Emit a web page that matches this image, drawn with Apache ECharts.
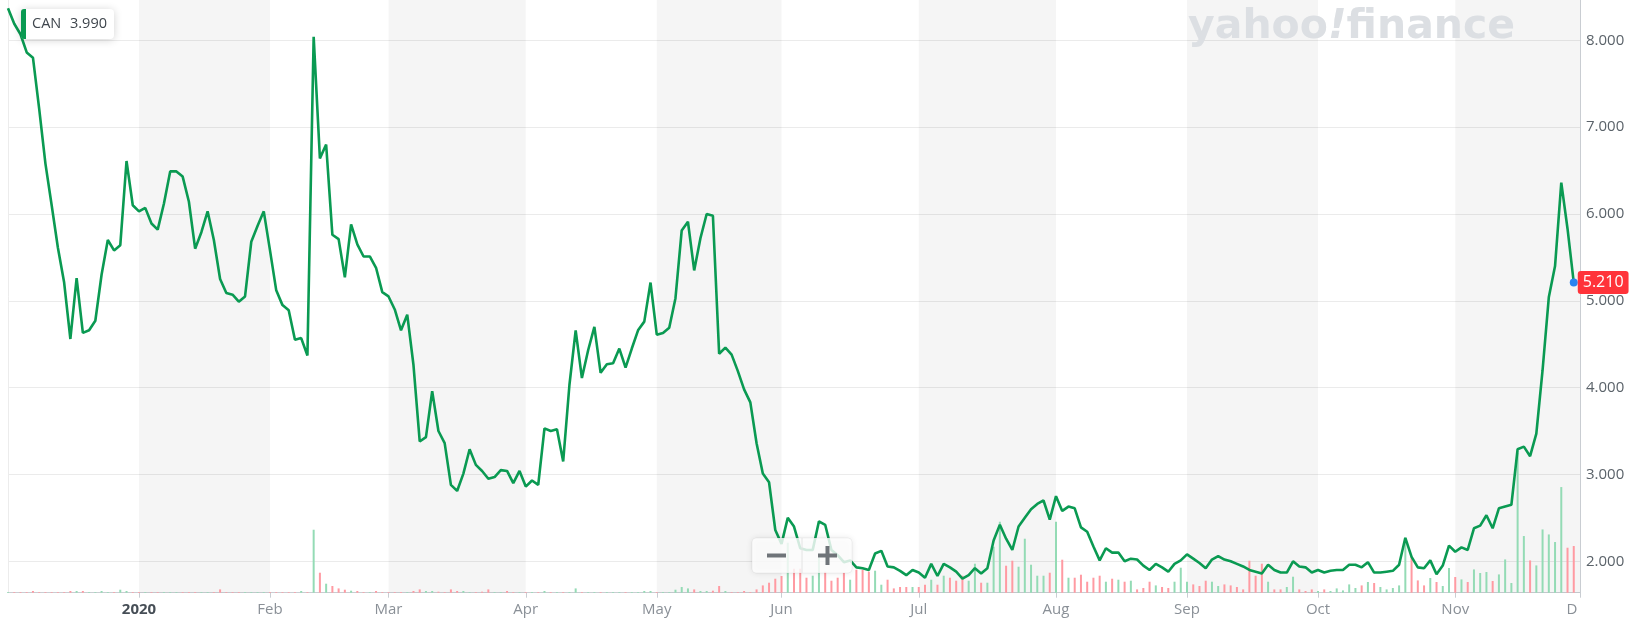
<!DOCTYPE html>
<html>
<head>
<meta charset="utf-8">
<script src="https://cdn.jsdelivr.net/npm/echarts@6/dist/echarts.min.js"></script>
<style>
html,body{margin:0;padding:0;background:#ffffff;}
#chart{width:1634px;height:632px;}
</style>
</head>
<body>
<div id="chart"></div>
<script>
// ---- calendar (NASDAQ trading days) ----
const firstDay = '2019-12-02';
const lastDay = '2020-12-01';
const holidays = ['2019-12-25','2020-01-01','2020-01-20','2020-02-17','2020-04-10',
                  '2020-05-25','2020-07-03','2020-09-07','2020-11-26'];
const monthNames = ['Jan','Feb','Mar','Apr','May','Jun','Jul','Aug','Sep','Oct','Nov','Dec'];

// ---- close prices (USD), one array per month ----
const priceDec19 = [8.37,8.19,8.07,7.86,7.80,7.21,6.58,6.10,5.61,5.21,4.56,5.26,4.63,4.66,4.77,5.30,5.70,5.58,5.64,6.61,6.10];
const priceJan = [6.03,6.07,5.89,5.82,6.12,6.49,6.49,6.43,6.14,5.60,5.79,6.03,5.70,5.25,5.09,5.07,4.99,5.05,5.68,5.86,6.03];
const priceFeb = [5.58,5.12,4.95,4.89,4.55,4.57,4.37,8.04,6.64,6.80,5.76,5.71,5.27,5.88,5.65,5.51,5.51,5.38,5.10];
const priceMar = [5.05,4.90,4.66,4.84,4.26,3.38,3.43,3.96,3.50,3.36,2.88,2.81,3.01,3.29,3.11,3.04,2.95,2.97,3.05,3.04,2.90,3.04];
const priceApr = [2.86,2.93,2.88,3.53,3.50,3.52,3.15,4.03,4.66,4.11,4.43,4.70,4.17,4.27,4.28,4.45,4.23,4.45,4.66,4.76,5.21];
const priceMay = [4.61,4.63,4.69,5.03,5.81,5.91,5.35,5.72,6.00,5.98,4.39,4.46,4.38,4.19,3.98,3.83,3.36,3.01,2.91,2.36];
const priceJun = [2.20,2.50,2.40,2.15,2.13,2.13,2.46,2.42,2.13,2.07,1.99,2.01,1.93,1.92,1.90,2.09,2.12,1.94,1.93,1.89,1.84,1.90];
const priceJul = [1.87,1.81,1.97,1.83,1.97,1.93,1.88,1.80,1.84,1.92,1.86,1.92,2.24,2.42,2.26,2.13,2.40,2.50,2.60,2.66,2.70,2.48];
const priceAug = [2.75,2.58,2.63,2.61,2.39,2.34,2.17,2.01,2.15,2.10,2.10,2.00,2.03,2.02,1.95,1.90,1.97,1.93,1.88,1.97,2.01];
const priceSep = [2.08,2.03,1.98,1.92,2.02,2.06,2.02,2.00,1.97,1.94,1.90,1.88,1.86,1.96,1.90,1.87,1.87,2.00,1.94,1.93,1.87];
const priceOct = [1.90,1.87,1.89,1.90,1.90,1.96,1.96,1.93,1.99,1.87,1.87,1.88,1.89,1.96,2.27,2.05,1.93,1.92,2.01,1.85,1.95,2.18];
const priceNov = [2.11,2.16,2.13,2.38,2.41,2.53,2.38,2.61,2.63,2.65,3.29,3.32,3.21,3.47,4.20,5.04,5.40,6.36,5.83,5.21];

// ---- volume (hundred-thousand shares), one array per month ----
const volDec19 = [0.7,0.7,0.7,0.7,1.7,0.7,0.7,0.7,0.7,0.7,1.7,1.7,1.7,0.7,0.7,1.7,0.7,0.7,3,1.7,0.7];
const volJan = [0.7,0.7,0.7,0.7,0.7,0.7,0.7,0.7,0.7,0.7,0.7,0.7,0.7,3.3,0.7,0.7,0.7,0.7,0.7,0.7,0.7];
const volFeb = [0.7,0.7,0.7,0.7,0.7,1.7,0.7,63,20,9,6.7,4.3,3,2,1.7,0.7,0.7,1.7,0.7];
const volMar = [0.7,0.7,0.7,0.7,1.7,3.3,1.7,1.7,1,0.7,3.3,1.7,1.7,0.7,0.7,1,3.3,0.7,0.7,1.7,0.7,0.7];
const volApr = [0.7,0.7,0.7,1.7,0.7,0.7,0.7,0.7,4.3,0.7,0.7,0.7,0.7,0.7,0.7,0.7,0.7,0.7,0.7,1.7,1.7];
const volMay = [0.7,0.7,0.7,3,5.7,4.3,3.3,1.7,1.7,2,6.7,1.7,0.7,0.7,1.7,0.7,3.3,7.3,10,14];
const volJun = [16.7,50,24,24,15,17,35,21,12,15,20,13,23,23,21,22,8,13,4.3,5.7,5.7,5.7];
const volJul = [5.7,8,13,8,17,15,12,17,12,29,10,10,46,71,27,32,26,54,28,17,17,20];
const volAug = [71,33,15,15,18,11,15,17,11,14,13,11,12,3.3,4.7,11,7.3,5.7,4.7,11,25];
const volSep = [11,8.3,6.7,12,11,6.7,8.3,7.3,5.7,3.3,32,17,29,11,3.3,3.3,5.7,16,3.3,1.7,3.3];
const volOct = [1.7,3.3,1.7,4.3,2.3,8.3,4.7,7.3,10.7,9.7,5.7,3.3,4.7,7.3,55,36,12.3,7.3,14.7,10.7,6.7,24.7];
const volNov = [15.7,13.3,10.7,23.3,19.7,20.7,11.7,18.3,33.3,9.7,140,56.7,32.3,27.3,63.3,58.3,50.7,105.7,45,46.7];

// shaded month bands (category start, category end)
const shadedMonths = [
  ['2020-01-02','2020-02-03'],
  ['2020-03-02','2020-04-01'],
  ['2020-05-01','2020-06-01'],
  ['2020-07-01','2020-08-03'],
  ['2020-09-01','2020-10-01'],
  ['2020-11-02','2020-12-01']
];

const ticker = 'CAN';
const legendValue = '3.990';

// ---- build ----
function tradingDays(start, end, skip) {
  const out = [];
  const d = new Date(start + 'T00:00:00Z');
  const e = new Date(end + 'T00:00:00Z');
  while (d <= e) {
    const s = d.toISOString().slice(0, 10);
    const wd = d.getUTCDay();
    if (wd !== 0 && wd !== 6 && skip.indexOf(s) < 0) out.push(s);
    d.setUTCDate(d.getUTCDate() + 1);
  }
  return out;
}
const dates = tradingDays(firstDay, lastDay, holidays);
const price = [].concat(priceDec19, priceJan, priceFeb, priceMar, priceApr, priceMay,
  priceJun, priceJul, priceAug, priceSep, priceOct, priceNov);
const volume = [].concat(volDec19, volJan, volFeb, volMar, volApr, volMay,
  volJun, volJul, volAug, volSep, volOct, volNov);

const labelIdx = new Set();
for (let i = 1; i < dates.length; i++) {
  if (dates[i].slice(5, 7) !== dates[i - 1].slice(5, 7)) labelIdx.add(i);
}

const lineColor = '#0a9a52';
const upColor = '#94dbb5';
const downColor = '#ff9aa2';
const FONT = '"Open Sans", "Noto Sans", sans-serif';

const priceData = dates.map((d, i) => (i < price.length ? price[i] : null));
const volData = dates.map((d, i) => {
  if (i >= volume.length) return null;
  const up = i === 0 || price[i] >= price[i - 1];
  return { value: volume[i], itemStyle: { color: up ? upColor : downColor } };
});
const bandData = shadedMonths.map(([a, b]) => [dates.indexOf(a), dates.indexOf(b)]);
const last = price.length - 1;

function withZ(el, z) {
  if (el.children) el.children.forEach(c => withZ(c, z));
  el.z = z;
  return el;
}

const chart = echarts.init(document.getElementById('chart'), null, { renderer: 'canvas' });
chart.setOption({
  animation: false,
  backgroundColor: '#ffffff',
  grid: { left: 8, right: 54, top: 0, bottom: 39.3, containLabel: false },
  xAxis: {
    type: 'category',
    data: dates,
    boundaryGap: false,
    axisLine: { show: true, lineStyle: { color: '#c9cdd2', width: 1 } },
    axisTick: { show: true, length: 5, lineStyle: { color: '#c9cdd2' }, interval: (i) => labelIdx.has(i) },
    axisLabel: {
      interval: (i) => labelIdx.has(i),
      margin: 10,
      fontSize: 15,
      fontFamily: FONT,
      color: '#8a9097',
      formatter: (val, idx) => {
        const m = +val.slice(5, 7) - 1;
        if (m === 0) return '{y|' + val.slice(0, 4) + '}';
        if (idx === dates.length - 1) return '{d|' + monthNames[m].charAt(0) + '}';
        return monthNames[m];
      },
      rich: {
        y: { fontSize: 15, fontFamily: FONT, fontWeight: 'bold', color: '#464e56' },
        d: { fontSize: 15, fontFamily: FONT, color: '#8a9097', padding: [0, 16, 0, 0] }
      }
    },
    splitLine: { show: false }
  },
  yAxis: [
    {
      type: 'value',
      position: 'right',
      min: 1.638,
      max: 8.464,
      splitNumber: 6,
      axisLine: { show: true, lineStyle: { color: '#c9cdd2' } },
      axisTick: { show: false },
      axisLabel: {
        margin: 6,
        fontSize: 15,
        fontFamily: FONT,
        color: '#5b636a',
        showMinLabel: false,
        showMaxLabel: false,
        formatter: (v) => v.toFixed(3)
      },
      splitLine: { show: true, showMinLine: false, showMaxLine: false, lineStyle: { color: '#ebebeb', width: 1 } }
    },
    {
      type: 'value',
      position: 'left',
      min: 0,
      max: 593,
      axisLine: { show: true, lineStyle: { color: '#ececec' } },
      axisTick: { show: false },
      axisLabel: { show: false },
      splitLine: { show: false }
    }
  ],
  series: [
    {
      name: 'months',
      type: 'custom',
      yAxisIndex: 1,
      silent: true,
      z: 1,
      data: bandData,
      encode: { x: [0, 1] },
      renderItem: (params, api) => {
        const a = api.coord([api.value(0), 0]);
        const b = api.coord([api.value(1), 0]);
        const cs = params.coordSys;
        return {
          type: 'rect',
          shape: { x: a[0], y: cs.y, width: b[0] - a[0], height: cs.height },
          style: { fill: 'rgba(0,0,0,0.04)' }
        };
      }
    },
    {
      name: 'Volume',
      type: 'bar',
      yAxisIndex: 1,
      data: volData,
      barWidth: 2,
      z: 2,
      silent: true
    },
    {
      name: ticker,
      type: 'line',
      data: priceData,
      showSymbol: false,
      symbol: 'none',
      z: 3,
      lineStyle: { color: lineColor, width: 2.6 },
      silent: true,
      markPoint: {
        silent: true,
        symbol: 'circle',
        symbolSize: 8,
        itemStyle: { color: '#2b84f0' },
        label: {
          show: true,
          position: 'right',
          distance: 0,
          formatter: (p) => Number(p.value).toFixed(3),
          backgroundColor: '#ff333a',
          color: '#ffffff',
          fontSize: 16,
          fontFamily: FONT,
          padding: [4, 5, 3, 5],
          borderRadius: 3
        },
        data: [{ coord: [dates[last], price[last]], value: price[last] }]
      }
    }
  ],
  graphic: [
    withZ({
      type: 'text',
      x: 1188, y: 7,
      style: {
        text: '{a|yahoo}{b|!}{a|finance}',
        rich: {
          a: { fontSize: 41, fontWeight: 'bold', fontFamily: '"DejaVu Sans", sans-serif', fill: '#dcdfe3' },
          b: { fontSize: 41, fontWeight: 'bold', fontStyle: 'italic', fontFamily: '"DejaVu Sans", sans-serif', fill: '#dcdfe3' }
        }
      }
    }, 100),
    withZ({
      type: 'group',
      x: 21, y: 9,
      children: [
        { type: 'rect', shape: { x: 0, y: 0, width: 93, height: 30, r: 4 },
          style: { fill: '#ffffff', shadowBlur: 8, shadowColor: 'rgba(0,0,0,0.18)', shadowOffsetY: 1 } },
        { type: 'rect', shape: { x: 0, y: 0, width: 5, height: 30, r: [3, 0, 0, 3] },
          style: { fill: lineColor } },
        { type: 'text', x: 11, y: 15,
          style: { text: ticker, fontSize: 14.5, fontFamily: FONT, fill: '#3f464d', verticalAlign: 'middle' } },
        { type: 'text', x: 49, y: 15,
          style: { text: legendValue, fontSize: 14.5, fontFamily: FONT, fill: '#3f464d', verticalAlign: 'middle' } }
      ]
    }, 100),
    withZ({
      type: 'group',
      x: 752, y: 538,
      children: [
        { type: 'rect', shape: { x: 0, y: 0, width: 100, height: 35, r: 4 },
          style: { fill: 'rgba(255,255,255,0.82)', stroke: 'rgba(0,0,0,0.05)', shadowBlur: 6, shadowColor: 'rgba(0,0,0,0.12)' } },
        { type: 'line', shape: { x1: 50, y1: 0, x2: 50, y2: 35 }, style: { stroke: '#e4e4e4', lineWidth: 1 } },
        { type: 'rect', shape: { x: 15, y: 15.5, width: 19, height: 4 }, style: { fill: '#6f7479' } },
        { type: 'rect', shape: { x: 66, y: 15.5, width: 19, height: 4 }, style: { fill: '#6f7479' } },
        { type: 'rect', shape: { x: 73.5, y: 8, width: 4, height: 19 }, style: { fill: '#6f7479' } }
      ]
    }, 100)
  ]
});
</script>
</body>
</html>
